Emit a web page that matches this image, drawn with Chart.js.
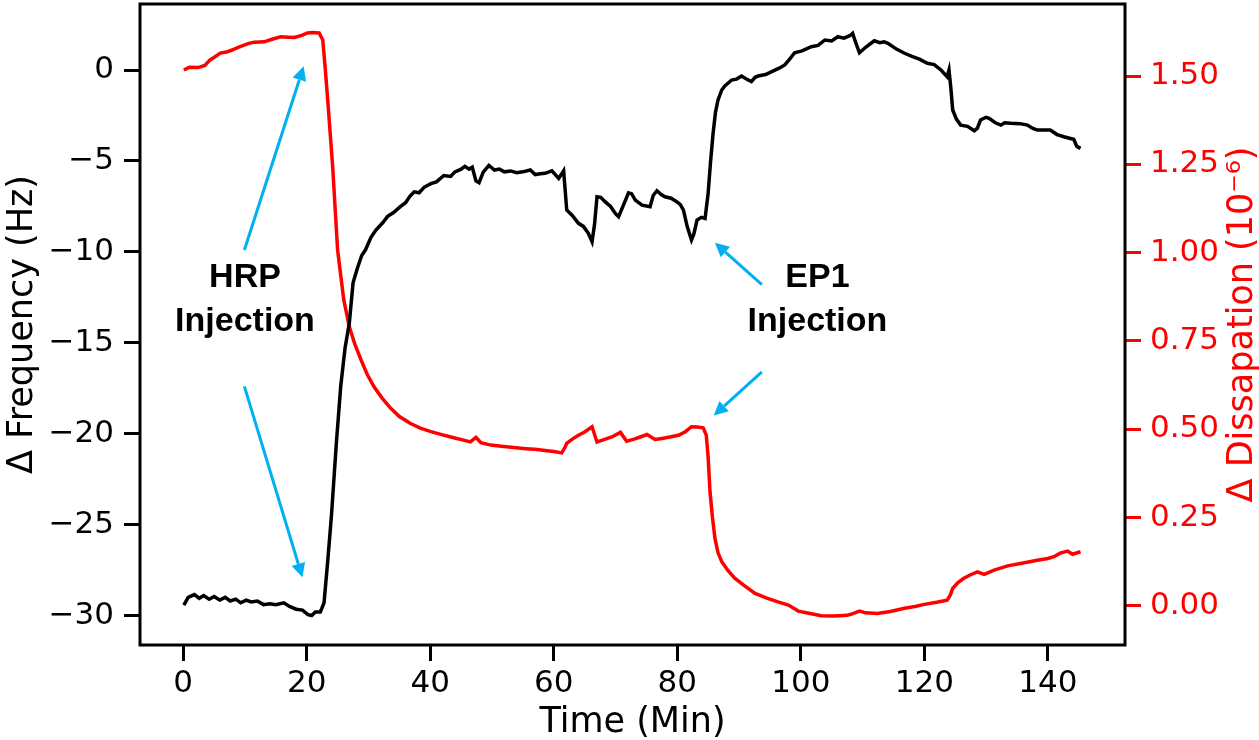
<!DOCTYPE html>
<html>
<head>
<meta charset="utf-8">
<title>QCM-D – HRP / EP1 injection</title>
<script src="https://cdn.jsdelivr.net/npm/chart.js@4.4.1/dist/chart.umd.min.js"></script>
<style>
  html, body { margin: 0; padding: 0; background: #ffffff; }
  #chart { display: block; }
</style>
</head>
<body>
<canvas id="chart" width="1259" height="740"></canvas>
<script>
// Données : fréquence (Hz) et dissipation (1e-6) en fonction du temps (min)
const FREQ_TIME = [
  0.1, 0.8, 1.8, 2.6, 3.3, 4.2, 5.0, 5.9, 6.8, 7.6, 8.5, 9.3, 10.2, 11.0, 12.0, 13.0, 14.0, 15.0,
  16.3, 17.2, 18.3, 19.3, 20.2, 20.8, 21.4, 22.2, 22.8, 23.4, 24.0, 24.8, 25.5, 26.2, 26.9, 27.5,
  28.2, 28.9, 29.5, 30.4, 31.2, 32.3, 33.1, 34.0, 35.2, 36.0, 36.7, 37.4, 38.2, 39.0, 40.1, 41.0,
  42.2, 43.3, 44.0, 45.0, 45.6, 46.3, 46.8, 47.4, 47.9, 48.6, 49.5, 50.4, 51.2, 52.0, 53.0, 54.0,
  55.0, 56.2, 57.0, 57.8, 58.6, 59.7, 60.8, 61.6, 62.1, 63.0, 64.0, 64.8, 65.6, 66.2, 66.6, 67.0,
  67.6, 68.3, 69.2, 70.0, 70.5, 71.2, 72.1, 72.6, 73.2, 74.3, 75.6, 76.1, 76.7, 77.4, 78.0, 79.0,
  79.9, 80.5, 81.0, 81.6, 82.3, 82.7, 83.2, 83.9, 84.5, 85.0, 85.4, 85.8, 86.2, 86.6, 87.2, 87.7,
  88.8, 89.6, 90.4, 91.2, 92.0, 92.6, 93.1, 94.3, 95.3, 96.5, 97.4, 98.2, 99.0, 100.2, 101.7, 102.8,
  103.9, 105.0, 106.0, 107.0, 108.0, 108.4, 108.8, 109.5, 110.5, 111.9, 112.8, 113.5, 114.1, 115.5,
  116.8, 118.0, 119.2, 120.5, 121.6, 122.7, 123.7, 124.0, 124.3, 124.6, 125.2, 125.9, 127.0, 128.1,
  128.6, 129.1, 130.0, 130.5, 131.5, 132.4, 133.0, 134.0, 135.5, 136.7, 137.5, 138.3, 139.5, 140.4,
  141.5, 142.6, 143.5, 144.2, 144.7, 145.3,
];
const FREQ_HZ = [
  -29.43, -29.0, -28.85, -29.05, -28.9, -29.1, -28.95, -29.15, -29.0, -29.2, -29.1, -29.3, -29.15, -29.25, -29.2, -29.4, -29.35, -29.4,
  -29.3, -29.5, -29.65, -29.7, -29.95, -30.0, -29.8, -29.8, -29.3, -27.0, -24.5, -20.5, -17.4, -15.3, -13.9, -11.7,
  -10.9, -10.2, -9.9, -9.2, -8.8, -8.4, -8.05, -7.85, -7.5, -7.3, -6.95, -6.7, -6.75, -6.45, -6.25, -6.15,
  -5.8, -5.85, -5.6, -5.45, -5.3, -5.45, -5.35, -6.1, -6.2, -5.6, -5.25, -5.5, -5.45, -5.6, -5.55, -5.65,
  -5.6, -5.5, -5.75, -5.7, -5.68, -5.54, -5.96, -5.54, -7.7, -8.0, -8.43, -8.6, -8.98, -9.44, -8.5, -6.97,
  -7.0, -7.24, -7.5, -7.9, -8.07, -7.5, -6.75, -6.8, -7.15, -7.43, -7.52, -6.9, -6.64, -6.85, -6.97, -7.05,
  -7.24, -7.4, -7.7, -8.6, -9.35, -9.0, -8.25, -8.1, -8.16, -6.78, -5.0, -3.48, -2.3, -1.65, -1.1, -0.88,
  -0.55, -0.5, -0.33, -0.5, -0.64, -0.4, -0.33, -0.25, -0.09, 0.1, 0.28, 0.6, 0.95, 1.05, 1.28, 1.35,
  1.65, 1.6, 1.83, 1.75, 1.9, 2.02, 1.6, 0.95, 1.25, 1.61, 1.5, 1.55, 1.47, 1.15,
  0.92, 0.75, 0.6, 0.37, 0.3, 0.0, -0.37, 0.0, -1.0, -2.2, -2.7, -3.03, -3.1, -3.34,
  -3.2, -2.75, -2.6, -2.66, -2.9, -3.03, -2.9, -2.93, -2.95, -3.03, -3.2, -3.3, -3.3, -3.3,
  -3.55, -3.67, -3.75, -3.81, -4.2, -4.31,
];

const DISS_TIME = [
  0.1, 1.0, 2.4, 3.5, 4.3, 5.1, 6.0, 7.0, 7.8, 9.0, 10.5, 11.5, 13.1, 14.5, 15.8, 17.0, 18.0, 19.2,
  20.1, 21.0, 22.0, 22.6, 23.0, 23.4, 24.2, 25.0, 26.0, 26.9, 27.8, 28.8, 29.8, 30.9, 32.2, 33.6,
  35.0, 36.8, 38.4, 40.1, 42.0, 43.8, 45.4, 46.5, 47.4, 48.2, 49.8, 51.5, 53.5, 55.5, 57.0, 58.9,
  60.0, 61.3, 61.8, 62.1, 63.0, 64.0, 65.0, 66.2, 67.0, 68.0, 69.4, 70.8, 71.8, 73.0, 74.0, 75.1,
  76.4, 77.5, 78.8, 80.2, 81.3, 82.3, 83.2, 84.2, 84.7, 85.0, 85.3, 85.7, 86.1, 86.6, 87.2, 88.2,
  89.3, 90.8, 92.6, 94.5, 96.3, 98.0, 99.6, 101.5, 103.3, 105.0, 106.3, 107.5, 108.1, 109.5, 110.5,
  112.4, 114.5, 116.8, 118.5, 120.0, 122.0, 123.7, 124.2, 124.6, 125.4, 126.4, 127.5, 128.6, 129.7,
  131.3, 133.5, 136.0, 138.3, 140.0, 141.0, 142.0, 143.2, 144.0, 145.3,
];
const DISS_VALUES = [
  1.517, 1.525, 1.524, 1.530, 1.545, 1.554, 1.565, 1.568, 1.573, 1.582, 1.592, 1.596, 1.597, 1.605, 1.611, 1.610, 1.609, 1.615,
  1.622, 1.623, 1.622, 1.602, 1.52, 1.432, 1.243, 1.007, 0.866, 0.790, 0.740, 0.696, 0.655, 0.620, 0.588, 0.559,
  0.536, 0.516, 0.503, 0.493, 0.484, 0.476, 0.469, 0.464, 0.477, 0.462, 0.455, 0.452, 0.448, 0.445, 0.443, 0.439,
  0.437, 0.433, 0.448, 0.460, 0.472, 0.483, 0.492, 0.507, 0.464, 0.470, 0.478, 0.491, 0.466, 0.472, 0.478, 0.485,
  0.471, 0.474, 0.478, 0.483, 0.493, 0.507, 0.506, 0.504, 0.483, 0.42, 0.323, 0.25, 0.191, 0.150, 0.125, 0.100,
  0.078, 0.058, 0.035, 0.022, 0.011, 0.002, -0.015, -0.022, -0.028, -0.029, -0.028, -0.027, -0.024, -0.015, -0.020,
  -0.022, -0.016, -0.007, -0.002, 0.004, 0.010, 0.016, 0.030, 0.049, 0.065, 0.078, 0.088, 0.096, 0.089,
  0.101, 0.113, 0.121, 0.129, 0.134, 0.139, 0.149, 0.155, 0.146, 0.153,
];

// Graduations des axes
const X_TICKS = [0, 20, 40, 60, 80, 100, 120, 140];
const FREQ_TICKS = [-30, -25, -20, -15, -10, -5, 0];
const DISS_TICKS = [0, 0.25, 0.5, 0.75, 1.0, 1.25, 1.5];

// Annotations (coordonnées en unités de données : temps, Hz)
const NOTE_TEXT = [['HRP', 'Injection'], ['EP1', 'Injection']];
const NOTE_AT = [[10.0, -12.6], [102.7, -12.6]];
const ARROW_FROM = [[9.9, -9.9], [9.9, -17.4], [93.7, -11.8], [93.7, -16.6]];
const ARROW_TO = [[19.5, 0.2], [19.3, -27.9], [86.1, -9.5], [85.9, -19.0]];

const COLORS = {
  freq: '#000000',
  diss: '#FF0000',
  arrow: '#00B0F0',
};
const TICK_FONT = { family: "'DejaVu Sans', sans-serif", size: 31 };
const TITLE_FONT = { family: "'DejaVu Sans', sans-serif", size: 35 };

function toPoints(xs, ys) {
  return xs.map((x, i) => ({ x, y: ys[i] }));
}

function minusSign(v) {
  return v < 0 ? '\u2212' + Math.abs(v) : String(v);
}

function setTicks(values) {
  return scale => { scale.ticks = values.map(value => ({ value })); };
}

// Taille fixe des axes, sans la marge que Chart.js réserve aux étiquettes extrêmes
function fixSize(dim, size) {
  return scale => {
    scale[dim] = size;
    scale.paddingTop = 0;
    scale.paddingBottom = 0;
    scale.paddingLeft = 0;
    scale.paddingRight = 0;
  };
}

function drawArrow(ctx, x1, y1, x2, y2) {
  const ang = Math.atan2(y2 - y1, x2 - x1);
  const head = 14;
  const half = 7;
  const bx = x2 - head * Math.cos(ang);
  const by = y2 - head * Math.sin(ang);
  ctx.beginPath();
  ctx.moveTo(x1, y1);
  ctx.lineTo(bx, by);
  ctx.stroke();
  ctx.beginPath();
  ctx.moveTo(x2, y2);
  ctx.lineTo(bx + half * Math.sin(ang), by - half * Math.cos(ang));
  ctx.lineTo(bx - half * Math.sin(ang), by + half * Math.cos(ang));
  ctx.closePath();
  ctx.fill();
}

// Cadre, flèches, textes d'annotation et titre de l'axe droit
const decorations = {
  id: 'decorations',
  afterDatasetsDraw(chart) {
    const { ctx, chartArea: a, scales } = chart;
    const sx = scales.x;
    const sy = scales.y;
    ctx.save();

    ctx.strokeStyle = COLORS.arrow;
    ctx.fillStyle = COLORS.arrow;
    ctx.lineWidth = 3;
    ARROW_FROM.forEach((p, i) => {
      const q = ARROW_TO[i];
      drawArrow(ctx, sx.getPixelForValue(p[0]), sy.getPixelForValue(p[1]),
        sx.getPixelForValue(q[0]), sy.getPixelForValue(q[1]));
    });

    ctx.fillStyle = '#000';
    ctx.font = "bold 34px 'Liberation Sans', Arial, sans-serif";
    ctx.textAlign = 'center';
    ctx.textBaseline = 'middle';
    NOTE_TEXT.forEach((lines, i) => {
      const cx = sx.getPixelForValue(NOTE_AT[i][0]);
      const cy = sy.getPixelForValue(NOTE_AT[i][1]);
      ctx.fillText(lines[0], cx, cy - 22);
      ctx.fillText(lines[1], cx, cy + 22);
    });

    ctx.strokeStyle = '#000';
    ctx.lineWidth = 3;
    ctx.strokeRect(a.left, a.top, a.right - a.left, a.bottom - a.top);

    // titre de l'axe droit, lu de bas en haut comme l'axe gauche
    ctx.fillStyle = COLORS.diss;
    ctx.font = `${TITLE_FONT.size}px ${TITLE_FONT.family}`;
    ctx.translate(scales.y2.right - 16, (a.top + a.bottom) / 2);
    ctx.rotate(-Math.PI / 2);
    ctx.fillText('\u0394 Dissapation (10\u207B\u2076)', 0, 0);
    ctx.restore();
  },
};

function tickGrid(color) {
  return {
    display: true,
    drawOnChartArea: false,
    drawTicks: true,
    tickLength: 16,
    tickWidth: 3,
    tickColor: color,
  };
}

const ctx = document.getElementById('chart').getContext('2d');

new Chart(ctx, {
  type: 'line',
  data: {
    datasets: [
      {
        label: 'Frequency',
        data: toPoints(FREQ_TIME, FREQ_HZ),
        borderColor: COLORS.freq,
        borderWidth: 3.5,
        pointRadius: 0,
        tension: 0,
        yAxisID: 'y',
      },
      {
        label: 'Dissipation',
        data: toPoints(DISS_TIME, DISS_VALUES),
        borderColor: COLORS.diss,
        borderWidth: 3.5,
        pointRadius: 0,
        tension: 0,
        yAxisID: 'y2',
      },
    ],
  },
  options: {
    responsive: false,
    animation: false,
    layout: { padding: { top: 4, left: 0, right: 0, bottom: 0 } },
    plugins: {
      legend: { display: false },
      tooltip: { enabled: false },
    },
    scales: {
      x: {
        type: 'linear',
        position: 'bottom',
        min: -7.0,
        max: 152.5,
        afterBuildTicks: setTicks(X_TICKS),
        afterFit: fixSize('height', 95),
        grid: tickGrid('#000'),
        border: { display: false },
        ticks: { color: '#000', font: TICK_FONT, padding: 4, maxRotation: 0 },
        title: {
          display: true,
          text: 'Time (Min)',
          color: '#000',
          font: TITLE_FONT,
          padding: { top: 0, bottom: -4 },
        },
      },
      y: {
        type: 'linear',
        position: 'left',
        min: -31.62,
        max: 3.63,
        afterBuildTicks: setTicks(FREQ_TICKS),
        afterFit: fixSize('width', 140),
        grid: tickGrid('#000'),
        border: { display: false },
        ticks: { color: '#000', font: TICK_FONT, padding: 10, callback: minusSign },
        title: {
          display: true,
          text: '\u0394 Frequency (Hz)',
          color: '#000',
          font: TITLE_FONT,
          padding: { top: 2, bottom: 0 },
        },
      },
      y2: {
        type: 'linear',
        position: 'right',
        min: -0.111,
        max: 1.704,
        afterBuildTicks: setTicks(DISS_TICKS),
        afterFit: fixSize('width', 134),
        grid: tickGrid(COLORS.diss),
        border: { display: false },
        ticks: { color: COLORS.diss, font: TICK_FONT, padding: 9, callback: v => v.toFixed(2) },
      },
    },
  },
  plugins: [decorations],
});
</script>
</body>
</html>
